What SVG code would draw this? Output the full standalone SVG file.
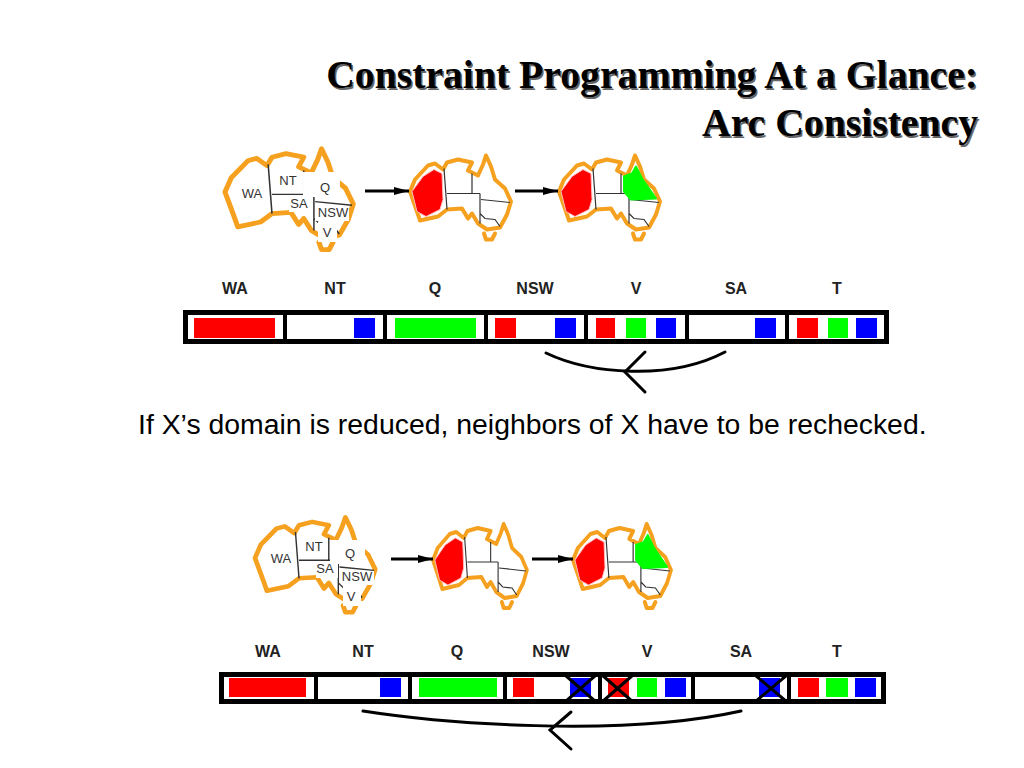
<svg xmlns="http://www.w3.org/2000/svg" xmlns:xlink="http://www.w3.org/1999/xlink" width="1024" height="768" viewBox="0 0 1024 768">
<style>
text{font-family:"Liberation Sans",Arial,sans-serif}
.title{font-family:"Liberation Serif","Times New Roman",serif;font-weight:700;font-size:39.700px;text-anchor:end}
.shadow{fill:#666}
.lab{font-weight:700;font-size:16px;text-anchor:middle;fill:#222}
.ml{font-size:13px;text-anchor:middle;fill:#333}
.bar{fill:#fff;stroke:#000;stroke-width:5}
.div{stroke:#000;stroke-width:4}
.r{fill:#f00}.g{fill:#0f0}.b{fill:#00f}
.coast{fill:none;stroke:#f5a01e;stroke-width:4;stroke-linejoin:round;stroke-linecap:round}
.inner{fill:none;stroke:#333;stroke-width:1.200}
.bl{stroke:#000;stroke-width:3;fill:none;stroke-linecap:round}
.arr{stroke:#000;stroke-width:3;fill:none;marker-end:url(#head)}
.x{stroke:#000;stroke-width:3;fill:none}
.w{fill:#fff}
</style>
<defs>
<marker id="head" markerUnits="userSpaceOnUse" markerWidth="16" markerHeight="12" refX="15" refY="6" orient="auto"><path d="M0 2L15 6L0 10z" fill="#000"/></marker>
<g id="oz">
<path class="coast" d="M0 0L5-12L18-26L25-28L33-22L37-29L48-32L62-29L58-21L68-16L73-27L76-36L81-25L85-12L95-3L101 10L97 23L90 36L77 38L68 32L62 22L58 27L52 17L37 18L28 25L10 29L7 20Z"/>
<path class="coast" d="M74 42L76 48L82 48L85 42"/>
<path class="inner" d="M34-23L37 18M37 2H70M62-18V2M70 2V32M71 8L100 11M70 22L75 27L85 28L90 35"/>
</g>
<path id="red" class="r" stroke="#fbb" stroke-width="1" stroke-linejoin="round" d="M2 0L13-15L24-22L32-18L33 8L30 18L16 25L7 20Z"/>
<path id="grn" class="g" stroke-linejoin="round" stroke="#0f0" stroke-width="2" d="M65-15L73-18L77-25L83-13L97 7L72 8L65 0Z"/>
</defs>

<g id="title">
<text class="title shadow" x="979.500" y="89.500">Constraint Programming At a Glance:</text>
<text class="title shadow" x="979.500" y="137.500">Arc Consistency</text>
<text class="title" x="978" y="88">Constraint Programming At a Glance:</text>
<text class="title" x="978" y="136">Arc Consistency</text>
</g>

<g id="map-top-1">
<use xlink:href="#oz" href="#oz" transform="translate(225,192) scale(1.27,1.2)"/>
<rect class="w" x="303" y="172" width="37" height="25"/>
<rect class="w" x="289" y="197" width="22" height="15"/>
<rect class="w" x="315" y="207" width="34" height="14"/>
<rect class="w" x="318" y="222" width="19" height="20"/>
<text class="ml" x="252" y="198">WA</text><text class="ml" x="288" y="185">NT</text><text class="ml" x="299" y="208">SA</text><text class="ml" x="325" y="192">Q</text><text class="ml" x="333" y="217">NSW</text><text class="ml" x="327" y="237">V</text>
</g>
<g id="map-top-2" transform="translate(410,191.500)"><use xlink:href="#oz" href="#oz"/><use xlink:href="#red" href="#red"/></g>
<g id="map-top-3" transform="translate(559,191.500)"><use xlink:href="#oz" href="#oz"/><use xlink:href="#red" href="#red"/><use xlink:href="#grn" href="#grn"/></g>

<g id="bar-top">
<rect class="bar" x="185.500" y="312.500" width="701" height="29"/>
<path class="div" d="M285 312V342M385 312V342M486 312V342M586 312V342M687 312V342M787 312V342"/>
<rect class="r" x="194" y="318" width="81" height="20"/>
<rect class="b" x="354" y="318" width="21" height="20"/>
<rect class="g" x="395" y="318" width="81" height="20"/>
<rect class="r" x="495" y="318" width="21" height="20"/><rect class="b" x="555" y="318" width="21" height="20"/>
<rect class="r" x="596" y="318" width="19" height="20"/><rect class="g" x="626" y="318" width="20" height="20"/><rect class="b" x="656" y="318" width="20" height="20"/>
<rect class="b" x="755" y="318" width="21" height="20"/>
<rect class="r" x="797" y="318" width="21" height="20"/><rect class="g" x="828" y="318" width="20" height="20"/><rect class="b" x="856" y="318" width="21" height="20"/>
<text class="lab" x="235" y="294">WA</text><text class="lab" x="335" y="294">NT</text><text class="lab" x="435" y="294">Q</text><text class="lab" x="535" y="294">NSW</text><text class="lab" x="636" y="294">V</text><text class="lab" x="736" y="294">SA</text><text class="lab" x="837" y="294">T</text>
</g>

<g id="caption"><text x="138" y="434" font-size="28.400" fill="#000">If X’s domain is reduced, neighbors of X have to be rechecked.</text></g>

<g id="map-bottom-1">
<use xlink:href="#oz" href="#oz" transform="translate(255,558) scale(1.19,1.13)"/>
<rect class="w" x="330" y="540" width="35" height="24"/>
<rect class="w" x="316" y="563" width="22" height="15"/>
<rect class="w" x="341" y="571" width="33" height="14"/>
<rect class="w" x="343" y="586" width="18" height="20"/>
<text class="ml" x="281" y="563">WA</text><text class="ml" x="314" y="551">NT</text><text class="ml" x="325" y="573">SA</text><text class="ml" x="350" y="558">Q</text><text class="ml" x="357" y="581">NSW</text><text class="ml" x="351" y="601">V</text>
</g>
<g id="map-bottom-2" transform="translate(433,560) scale(.93,1)"><use xlink:href="#oz" href="#oz"/><use xlink:href="#red" href="#red"/></g>
<g id="map-bottom-3" transform="translate(573,560) scale(.97,1)"><use xlink:href="#oz" href="#oz"/><use xlink:href="#red" href="#red"/><use xlink:href="#grn" href="#grn"/></g>

<g id="bar-bottom">
<rect class="bar" x="221.500" y="674.500" width="662" height="27"/>
<path class="div" d="M316 674V702M410 674V702M505 674V702M600 674V702M693 674V702M789 674V702"/>
<rect class="r" x="229" y="678" width="77" height="19"/>
<rect class="b" x="380" y="678" width="21" height="19"/>
<rect class="g" x="419" y="678" width="78" height="19"/>
<rect class="r" x="513" y="678" width="21" height="19"/><rect class="b" x="570" y="678" width="21" height="19"/>
<rect class="r" x="608" y="678" width="21" height="19"/><rect class="g" x="637" y="678" width="20" height="19"/><rect class="b" x="665" y="678" width="21" height="19"/>
<rect class="b" x="759" y="678" width="21" height="19"/>
<rect class="r" x="798" y="678" width="21" height="19"/><rect class="g" x="826" y="678" width="22" height="19"/><rect class="b" x="855" y="678" width="21" height="19"/>
<path class="x" d="M565 675L596 702M596 675L565 702M602 675L633 702M633 675L602 702M755 675L787 702M787 675L755 702"/>
<text class="lab" x="268" y="657">WA</text><text class="lab" x="363" y="657">NT</text><text class="lab" x="457" y="657">Q</text><text class="lab" x="551" y="657">NSW</text><text class="lab" x="647" y="657">V</text><text class="lab" x="741" y="657">SA</text><text class="lab" x="837" y="657">T</text>
</g>

<g id="connectors">
<path class="arr" d="M365 191H409"/>
<path class="arr" d="M515 191H558"/>
<path class="arr" d="M391 559H433"/>
<path class="arr" d="M532 559H573"/>
<path class="bl" d="M546 353C590 374 670 381 725 352"/>
<path class="bl" d="M645 352L625 372L645 392"/>
<path class="bl" d="M363 711C440 723 620 738 741 711"/>
<path class="bl" d="M571 712L550 730L571 749"/>
</g>
</svg>
